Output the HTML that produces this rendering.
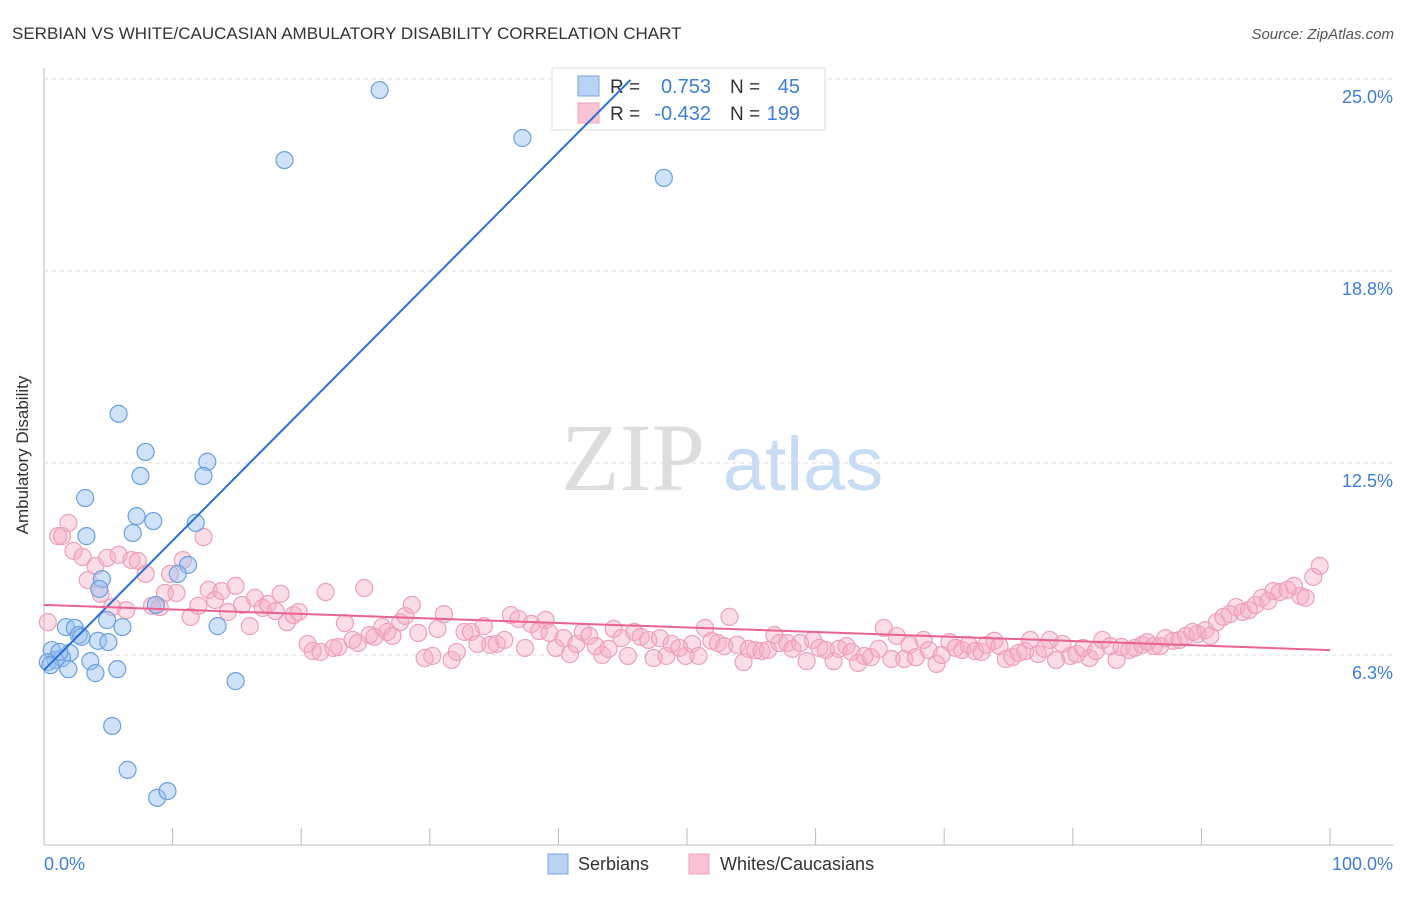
<!DOCTYPE html>
<html><head><meta charset="utf-8"><style>
body{margin:0;background:#fff;font-family:"Liberation Sans",sans-serif;}
</style></head><body>
<svg id="chart" width="1406" height="892" style="font-family:'Liberation Sans',sans-serif">
<text x="12" y="39" font-size="17" fill="#333">SERBIAN VS WHITE/CAUCASIAN AMBULATORY DISABILITY CORRELATION CHART</text>
<text x="1394" y="39" font-size="15" fill="#555" font-style="italic" text-anchor="end">Source: ZipAtlas.com</text>
<g id="grid"></g>
<text x="633" y="490" font-size="96" fill="#ddd" style="font-family:'Liberation Serif',serif" text-anchor="middle">ZIP</text>
<text x="803" y="490" font-size="76" fill="#c8dcf3" text-anchor="middle">atlas</text>
<g id="pts"></g>
<text x="28" y="455" font-size="17" fill="#333" text-anchor="middle" transform="rotate(-90 28 455)">Ambulatory Disability</text>
<text x="44" y="870" font-size="18" fill="#3d7edb">0.0%</text>
<text x="1393" y="870" font-size="18" fill="#3d7edb" text-anchor="end">100.0%</text>
<g>
<rect x="552" y="68" width="273" height="62" fill="#fff" stroke="#ddd"/>
<rect x="578" y="76" width="21" height="20" fill="#b8d3f4" stroke="#7aa7e3"/>
<rect x="578" y="103" width="21" height="20" fill="#f8c4d4" stroke="#eea0b8"/>
<text x="610" y="93" font-size="19" fill="#333">R =</text>
<text x="711" y="93" font-size="20" fill="#3d7edb" text-anchor="end">0.753</text>
<text x="730" y="93" font-size="19" fill="#333">N =</text>
<text x="800" y="93" font-size="20" fill="#3d7edb" text-anchor="end">45</text>
<text x="610" y="120" font-size="19" fill="#333">R =</text>
<text x="711" y="120" font-size="20" fill="#3d7edb" text-anchor="end">-0.432</text>
<text x="730" y="120" font-size="19" fill="#333">N =</text>
<text x="800" y="120" font-size="20" fill="#3d7edb" text-anchor="end">199</text>
</g>
<g id="lines"></g>
<g>
<rect x="548" y="854" width="20" height="20" fill="#b8d3f4" stroke="#7aa7e3"/>
<text x="578" y="870" font-size="18" fill="#333">Serbians</text>
<rect x="689" y="854" width="20" height="20" fill="#f8c4d4" stroke="#eea0b8"/>
<text x="720" y="870" font-size="18" fill="#333">Whites/Caucasians</text>
</g>
</svg>
<script>
const yTicks=[6.3,12.5,18.8,25.0];
const yTickPos=[6.25,12.5,18.75,25];
const xTicks=[0,10,20,30,40,50,60,70,80,90,100];
const serbX=[26.1,37.2,18.7,48.2,5.8,7.9,12.7,7.5,12.4,3.2,7.2,8.5,3.3,11.8,6.9,11.2,10.4,4.5,4.3,8.7,4.9,1.7,2.4,6.1,13.5,2.7,2.9,4.2,5.0,2.0,0.6,0.9,0.3,1.4,3.6,5.7,1.9,4.0,14.9,5.3,6.5,8.8,9.6,1.2,0.5];
const serbY=[24.64,23.08,22.36,21.78,14.1,12.86,12.54,12.08,12.08,11.36,10.77,10.61,10.12,10.55,10.22,9.18,8.89,8.72,8.4,7.88,7.39,7.16,7.13,7.16,7.19,6.9,6.84,6.71,6.67,6.32,6.41,6.09,6.02,6.15,6.05,5.79,5.79,5.66,5.4,3.94,2.51,1.6,1.82,6.35,5.92];
const whiteX=[0.3,1.1,1.9,1.4,2.3,3.0,3.4,4.0,4.4,4.9,5.3,5.8,6.4,6.8,7.3,7.9,8.4,9.0,9.4,9.8,10.3,10.8,11.4,12.0,12.4,12.8,13.3,13.8,14.3,14.9,15.4,16.0,16.4,17.0,17.4,18.0,18.4,18.9,19.4,19.8,20.5,20.9,21.5,21.9,22.5,22.9,23.4,24.0,24.4,24.9,25.3,25.7,26.3,26.7,27.1,27.7,28.1,28.6,29.1,29.6,30.2,30.6,31.1,31.7,32.1,32.7,33.2,33.7,34.2,34.7,35.2,35.8,36.3,36.9,37.4,37.9,38.5,39.0,39.3,39.8,40.4,40.9,41.4,41.9,42.4,42.9,43.4,43.9,44.3,44.9,45.4,45.9,46.4,47.0,47.4,47.9,48.4,48.8,49.4,49.9,50.4,50.9,51.4,51.9,52.4,52.9,53.3,53.9,54.4,54.8,55.3,55.8,56.3,56.8,57.2,57.8,58.2,58.8,59.3,59.8,60.3,60.8,61.4,61.8,62.4,62.8,63.3,63.8,64.3,64.9,65.3,65.9,66.3,66.9,67.3,67.8,68.4,68.8,69.4,69.8,70.4,70.9,71.4,71.9,72.4,72.9,73.3,73.9,74.3,74.8,75.3,75.8,76.3,76.7,77.3,77.8,78.2,78.7,79.2,79.8,80.3,80.8,81.3,81.8,82.3,82.9,83.4,83.8,84.4,84.8,85.4,85.8,86.3,86.8,87.2,87.8,88.3,88.8,89.3,89.7,90.3,90.7,91.2,91.7,92.2,92.7,93.2,93.7,94.2,94.7,95.2,95.6,96.1,96.7,97.2,97.7,98.1,98.7,99.2];
const whiteY=[7.32,10.12,10.55,10.12,9.64,9.44,8.69,9.15,8.24,9.41,7.81,9.51,7.71,9.34,9.31,8.89,7.85,7.81,8.27,8.89,8.27,9.34,7.49,7.85,10.09,8.37,8.04,8.33,7.65,8.5,7.88,7.19,8.11,7.78,7.91,7.68,8.24,7.32,7.55,7.65,6.61,6.38,6.35,8.3,6.48,6.51,7.29,6.74,6.64,8.43,6.9,6.84,7.16,7.0,6.87,7.32,7.52,7.88,6.97,6.15,6.22,7.1,7.58,6.09,6.35,7.0,7.0,6.61,7.19,6.58,6.61,6.74,7.55,7.42,6.48,7.26,7.03,7.39,6.97,6.48,6.8,6.28,6.61,7.0,6.87,6.54,6.25,6.45,7.1,6.8,6.22,7.0,6.84,6.74,6.15,6.8,6.22,6.61,6.48,6.22,6.61,6.22,7.13,6.71,6.64,6.54,7.49,6.58,6.02,6.45,6.41,6.38,6.41,6.9,6.64,6.64,6.45,6.64,6.05,6.74,6.48,6.41,6.05,6.45,6.54,6.35,5.99,6.22,6.18,6.45,7.13,6.12,6.87,6.12,6.58,6.18,6.74,6.41,5.96,6.25,6.67,6.48,6.41,6.58,6.38,6.35,6.58,6.71,6.54,6.12,6.18,6.32,6.38,6.74,6.28,6.45,6.74,6.09,6.61,6.22,6.28,6.48,6.15,6.38,6.74,6.54,6.09,6.51,6.41,6.48,6.58,6.67,6.54,6.54,6.8,6.71,6.74,6.87,7.0,6.93,7.06,6.87,7.32,7.49,7.58,7.81,7.65,7.71,7.88,8.11,8.01,8.33,8.3,8.37,8.5,8.17,8.11,8.79,9.15];
const serbTrend=[5.76,24.97];
const serbTrendX=[0,45.6];
const whiteTrend=[7.88,6.41];
const whiteTrendX=[0,100];

const X0=44,X1=1330,YB=655,PPU=30.72;
const sx=v=>X0+(X1-X0)*v/100;
const sy=v=>YB-(v-6.25)*PPU;
const NS='http://www.w3.org/2000/svg';
function mk(tag,attrs,parent){const e=document.createElementNS(NS,tag);for(const k in attrs)e.setAttribute(k,attrs[k]);parent.appendChild(e);return e;}
const grid=document.getElementById('grid');
const ax=mk('line',{x1:44,y1:68,x2:44,y2:845,stroke:'#bbb'},grid);


const bx=mk('line',{x1:44,y1:845,x2:1393,y2:845,stroke:'#bbb'},grid);


yTickPos.forEach((v,i)=>{
  const g=mk('line',{x1:44,y1:sy(v),x2:1393,y2:sy(v),stroke:'#ddd','stroke-dasharray':'4,4'},grid);
  
  
  const t=mk('text',{x:1393,y:sy(v)+24,'font-size':18,fill:'#3d7edb','text-anchor':'end'},grid);
  t.textContent=yTicks[i].toFixed(1)+'%';
  
  
});
xTicks.forEach(v=>{
  const l=mk('line',{x1:sx(v),y1:828,x2:sx(v),y2:845,stroke:'#bbb'},grid);
  
  
});
const pts=document.getElementById('pts');
whiteX.forEach((x,i)=>{
  const c=mk('circle',{cx:sx(x),cy:sy(whiteY[i]),r:8.5,fill:'rgba(245,170,195,0.4)',stroke:'#eea0b8','stroke-width':1.2},pts);
  
  
});
serbX.forEach((x,i)=>{
  const c=mk('circle',{cx:sx(x),cy:sy(serbY[i]),r:8.5,fill:'rgba(150,190,240,0.45)',stroke:'#6a9fe0','stroke-width':1.2},pts);
  
  
});
const lines=document.getElementById('lines');
const l1=mk('line',{x1:sx(serbTrendX[0]),y1:sy(serbTrend[0]),x2:sx(serbTrendX[1]),y2:sy(serbTrend[1]),stroke:'#2a6fd6','stroke-width':2},lines);


const l2=mk('line',{x1:sx(whiteTrendX[0]),y1:sy(whiteTrend[0]),x2:sx(whiteTrendX[1]),y2:sy(whiteTrend[1]),stroke:'#e8638f','stroke-width':2},lines);


</script>
</body></html>
